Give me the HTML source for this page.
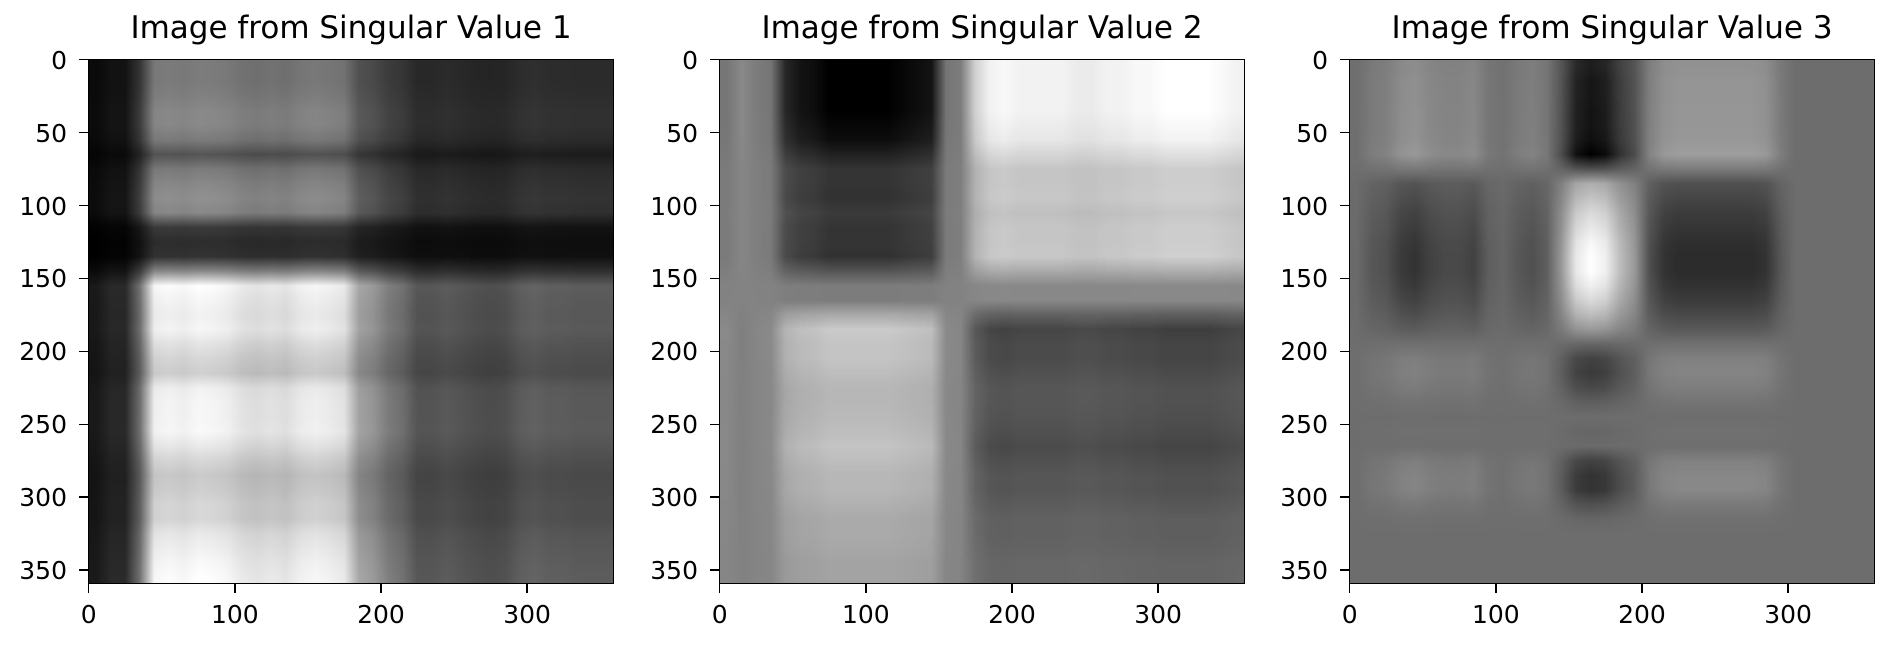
<!DOCTYPE html>
<html><head><meta charset="utf-8">
<style>
html,body{margin:0;padding:0;background:#fff;}
#root{position:relative;width:1893px;height:648px;overflow:hidden;font-family:"DejaVu Sans","Liberation Sans",sans-serif;}
.panel{position:absolute;top:59px;width:526px;height:525px;}
.panel canvas{position:absolute;left:0;top:0;width:526px;height:525px;}
.frame{position:absolute;left:0;top:0;width:526px;height:525px;box-sizing:border-box;border:1.5px solid #000;}
.title{position:absolute;top:-46px;left:-100px;width:726px;text-align:center;font-size:31px;line-height:31px;color:#000;white-space:nowrap;}
.tick{position:absolute;background:#000;}
.lbl{position:absolute;font-size:25px;line-height:25px;color:#000;white-space:nowrap;}
</style></head>
<body>
<div id="root"></div>
<script>
// Column / row profiles (36 bins of 10 px each) for each rank-1 component
const p1Cols=[0.12,0.18,0.18,0.45,0.95,0.97,0.95,0.98,0.97,0.95,0.9,0.88,0.9,0.88,0.93,0.95,0.93,0.9,0.65,0.6,0.5,0.45,0.35,0.35,0.37,0.35,0.33,0.32,0.33,0.38,0.4,0.38,0.38,0.37,0.37,0.37];
const p1Rows=[0.5,0.5,0.52,0.55,0.55,0.5,0.35,0.5,0.55,0.58,0.55,0.25,0.2,0.22,0.55,1.0,0.97,0.95,0.97,0.9,0.85,0.82,0.95,0.97,0.97,0.98,0.92,0.85,0.8,0.82,0.85,0.85,0.92,0.95,0.98,1.0];
const p2Cols=[-0.1,0.05,-0.05,-0.1,-0.7,-0.85,-0.9,-1.0,-1.0,-1.0,-1.0,-1.0,-0.95,-0.9,-0.85,-0.1,-0.05,0.6,0.85,0.9,0.85,0.85,0.85,0.85,0.8,0.8,0.85,0.85,0.9,0.9,0.95,0.95,0.95,0.95,0.9,0.85];
const p2Rows=[1.0,1.0,1.0,1.0,0.95,0.9,0.75,0.6,0.6,0.62,0.55,0.6,0.6,0.62,0.35,0.05,0.05,-0.3,-0.55,-0.5,-0.5,-0.45,-0.4,-0.4,-0.42,-0.45,-0.5,-0.45,-0.4,-0.4,-0.35,-0.3,-0.3,-0.28,-0.25,-0.25];
const p3Cols=[0.02,0.15,0.2,0.35,0.4,0.3,0.25,0.25,0.3,0.1,0.05,0.15,0.2,0.1,-0.3,-0.85,-1.0,-0.9,-0.55,-0.3,0.2,0.4,0.45,0.45,0.45,0.45,0.45,0.45,0.4,0.15,0.0,0.0,0.0,0.0,0.0,0.0];
const p3Rows=[0.55,0.6,0.6,0.62,0.62,0.65,0.75,0.2,-0.45,-0.6,-0.75,-0.85,-0.95,-1.0,-1.0,-0.9,-0.75,-0.55,-0.3,0.05,0.3,0.35,0.25,0.1,0.0,0.05,0.02,0.3,0.4,0.4,0.2,0.05,0.0,0.0,0.0,0.0];
const titles=["Image from Singular Value 1","Image from Singular Value 2","Image from Singular Value 3"];
const xTicks=[0,100,200,300];
const yTicks=[0,50,100,150,200,250,300,350];
const panelLefts=[88,719,1349];
const N=360, W=526, H=525;

function sample(arr,p){
  let t=(p-5)/10; if(t<0)t=0; if(t>arr.length-1)t=arr.length-1;
  const i=Math.floor(t), f=t-i; const j=Math.min(i+1,arr.length-1);
  return arr[i]*(1-f)+arr[j]*f;
}
const xs=v=>(v+0.5)/N*W, ys=v=>(v+0.5)/N*H;
const root=document.getElementById('root');
const sets=[[p1Rows,p1Cols],[p2Rows,p2Cols],[p3Rows,p3Cols]];
sets.forEach((s,k)=>{
  const panel=document.createElement('div');
  panel.className='panel';panel.style.left=panelLefts[k]+'px';
  
  
  const cv=document.createElement('canvas');cv.width=N;cv.height=N;
  
  
  const ctx=cv.getContext('2d');const img=ctx.createImageData(N,N);
  const vals=new Float32Array(N*N);let mn=1e9,mx=-1e9;
  const rr=[],cc=[];for(let i=0;i<N;i++){rr.push(sample(s[0],i));cc.push(sample(s[1],i));}
  for(let y=0;y<N;y++)for(let x=0;x<N;x++){const v=rr[y]*cc[x];vals[y*N+x]=v;if(v<mn)mn=v;if(v>mx)mx=v;}
  for(let i=0;i<N*N;i++){const g=Math.round((vals[i]-mn)/(mx-mn)*255);img.data[i*4]=g;img.data[i*4+1]=g;img.data[i*4+2]=g;img.data[i*4+3]=255;}
  ctx.putImageData(img,0,0);panel.appendChild(cv);
  const fr=document.createElement('div');fr.className='frame';
  
  
  panel.appendChild(fr);
  const t=document.createElement('div');t.className='title';t.textContent=titles[k];
  
  
  panel.appendChild(t);
  xTicks.forEach(v=>{
    const tk=document.createElement('div');tk.className='tick';
    tk.style.left=(xs(v)-0.75)+'px';tk.style.top=H+'px';tk.style.width='1.5px';tk.style.height='9px';
    
    
    panel.appendChild(tk);
    const l=document.createElement('div');l.className='lbl';l.textContent=v;
    l.style.left=(xs(v)-50)+'px';l.style.width='100px';l.style.textAlign='center';l.style.top=(H+18)+'px';
    
    
    panel.appendChild(l);
  });
  yTicks.forEach(v=>{
    const tk=document.createElement('div');tk.className='tick';
    tk.style.left='-9px';tk.style.top=(ys(v)-0.75)+'px';tk.style.width='9px';tk.style.height='1.5px';
    
    
    panel.appendChild(tk);
    const l=document.createElement('div');l.className='lbl';l.textContent=v;
    l.style.left='-121px';l.style.width='100px';l.style.textAlign='right';l.style.top=(ys(v)-12)+'px';
    
    
    panel.appendChild(l);
  });
  root.appendChild(panel);
});
</script>
</body></html>
